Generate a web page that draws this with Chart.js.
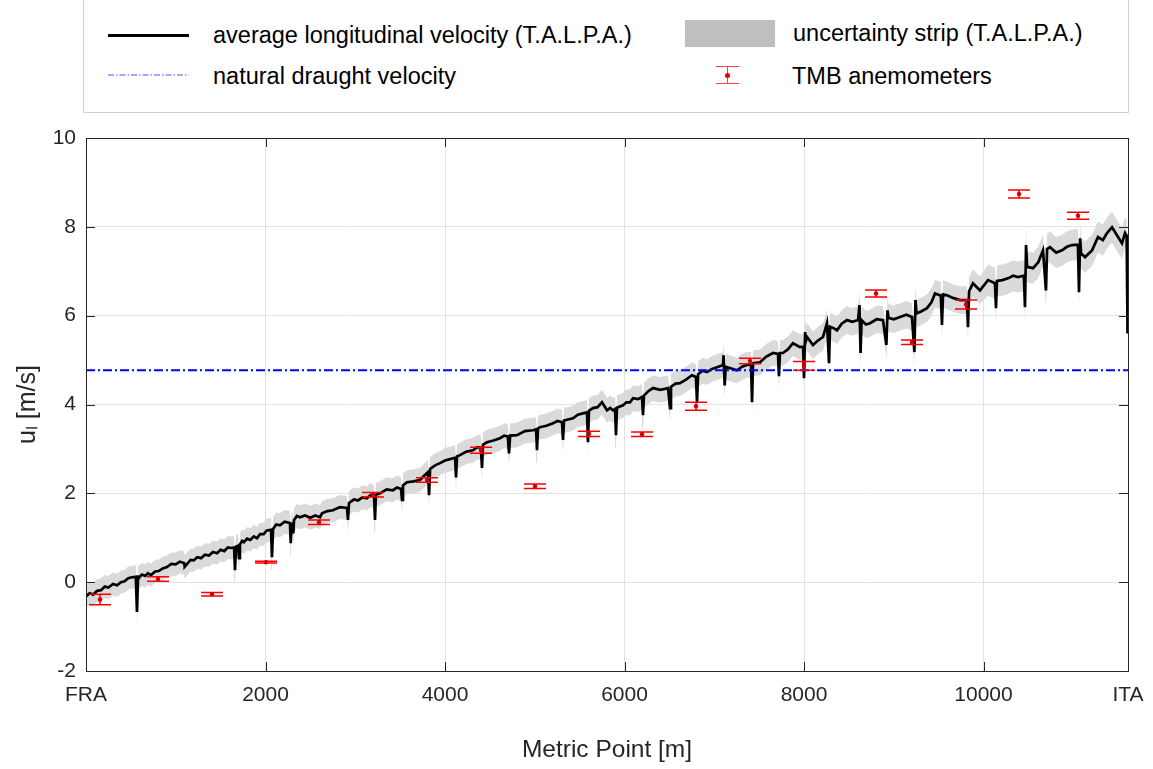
<!DOCTYPE html>
<html>
<head>
<meta charset="utf-8">
<script src="https://cdn.jsdelivr.net/npm/chart.js@4.4.1/dist/chart.umd.min.js"></script>
<style>
    html, body { margin: 0; padding: 0; background: #fff; }
    #wrap { position: relative; width: 1153px; height: 769px; font-family: "Liberation Sans", Arial, sans-serif; color: #000; }
    #chart { position: absolute; left: 0; top: 0; }
    #legend { position: absolute; left: 83px; top: 0; width: 1044px; height: 112px; border: 1px solid #d0d0d0; border-top: none; background: #fff; }
    .item { position: absolute; font-size: 23.5px; line-height: 28px; white-space: nowrap; }
    .sym { position: absolute; }
</style>
</head>
<body>
<div id="wrap">
    <canvas id="chart" width="1153" height="769"></canvas>
    <div id="legend">
        <div class="sym" style="left:24px;top:34px;width:81px;height:3px;background:#000"></div>
        <div class="item" style="left:129px;top:21px">average longitudinal velocity (T.A.L.P.A.)</div>
        <svg class="sym" style="left:24px;top:72px" width="81" height="6">
            <line x1="0" y1="3" x2="81" y2="3" stroke="#4d4dff" stroke-width="1" stroke-dasharray="6,2,1.5,2"></line>
        </svg>
        <div class="item" style="left:129px;top:62px">natural draught velocity</div>
        <div class="sym" style="left:601px;top:20px;width:90px;height:27px;background:#bfbfbf"></div>
        <div class="item" style="left:709px;top:19px">uncertainty strip (T.A.L.P.A.)</div>
        <div class="sym" style="left:632px;top:66px;width:23px;height:1px;background:#ff4040"></div>
        <div class="sym" style="left:643px;top:66px;width:1px;height:18px;background:#ff4040"></div>
        <div class="sym" style="left:632px;top:83px;width:23px;height:1px;background:#ff4040"></div>
        <div class="sym" style="left:641px;top:73px;width:5px;height:5px;background:#e00000;border-radius:3px"></div>
        <div class="item" style="left:708px;top:62px">TMB anemometers</div>
    </div>
</div>
<script>
// x limits: FRA portal = 0, ITA portal
const X_FRA = 0;
const X_ITA = 11610;
const xTicks = [0, 2000, 4000, 6000, 8000, 10000, 11610];
const yTicks = [-2, 0, 2, 4, 6, 8, 10];

// average longitudinal velocity (T.A.L.P.A.), [metric point, u]
const talpaLine = [
    [0, -0.32], [40, -0.25], [80, -0.28], [120, -0.20], [167, -0.18], [210, -0.10], [250, -0.12], [300, -0.04],
    [345, -0.07], [390, 0.00], [430, 0.02], [470, 0.09], [513, 0.11], [555, 0.12], [568, -0.67], [580, 0.12],
    [590, 0.11], [625, 0.17], [660, 0.14], [690, 0.20], [724, 0.16], [770, 0.24], [810, 0.25], [855, 0.31],
    [902, 0.34], [950, 0.41], [1000, 0.40], [1045, 0.46], [1092, 0.43], [1100, 0.35], [1130, 0.42], [1165, 0.50],
    [1200, 0.49], [1240, 0.56], [1281, 0.54], [1325, 0.62], [1370, 0.60], [1415, 0.68], [1460, 0.65], [1500, 0.73],
    [1540, 0.70], [1580, 0.78], [1616, 0.77], [1650, 0.78], [1660, 0.27], [1672, 0.80], [1695, 0.82], [1705, 0.54],
    [1715, 0.85], [1740, 0.93], [1760, 0.90], [1795, 0.98], [1830, 0.95], [1870, 1.03], [1905, 0.99], [1940, 1.08],
    [1980, 1.08], [2010, 1.16], [2039, 1.17], [2062, 1.18], [2072, 0.56], [2084, 1.20], [2120, 1.30], [2161, 1.28],
    [2215, 1.36], [2273, 1.33], [2278, 1.33], [2284, 0.88], [2290, 1.30], [2303, 1.32], [2310, 1.10], [2318, 1.40],
    [2350, 1.49], [2384, 1.46], [2440, 1.50], [2500, 1.45], [2555, 1.50], [2607, 1.46], [2630, 1.55], [2690, 1.60],
    [2752, 1.62], [2830, 1.69], [2908, 1.67], [2919, 1.40], [2930, 1.78], [2942, 1.80], [2985, 1.86], [3030, 1.84],
    [3080, 1.91], [3131, 1.89], [3170, 1.96], [3210, 1.92], [3220, 1.40], [3230, 1.97], [3276, 2.00], [3350, 2.09],
    [3420, 2.07], [3465, 2.13], [3510, 2.10], [3521, 1.85], [3532, 2.18], [3577, 2.25], [3650, 2.27], [3721, 2.30],
    [3765, 2.39], [3811, 2.48], [3822, 1.96], [3834, 2.55], [3890, 2.63], [3944, 2.68], [4000, 2.74], [4056, 2.77],
    [4089, 2.79], [4112, 2.80], [4123, 2.36], [4134, 2.83], [4167, 2.86], [4240, 2.94], [4312, 2.97], [4360, 3.04],
    [4400, 3.03], [4412, 2.57], [4424, 3.10], [4468, 3.15], [4540, 3.19], [4613, 3.24], [4660, 3.30], [4700, 3.28],
    [4713, 2.90], [4726, 3.30], [4802, 3.31], [4890, 3.40], [4981, 3.42], [5015, 3.44], [5025, 2.97], [5036, 3.46],
    [5058, 3.49], [5130, 3.52], [5203, 3.58], [5255, 3.63], [5304, 3.60], [5315, 3.20], [5326, 3.64], [5426, 3.69],
    [5480, 3.77], [5537, 3.80], [5582, 3.82], [5593, 3.15], [5604, 3.86], [5649, 3.92], [5700, 3.94], [5749, 4.05],
    [5805, 3.87], [5840, 3.92], [5872, 3.87], [5895, 3.90], [5905, 3.31], [5916, 3.93], [5983, 3.98], [6020, 4.05],
    [6061, 4.05], [6095, 4.14], [6150, 4.12], [6195, 4.17], [6206, 3.76], [6217, 4.20], [6265, 4.30], [6318, 4.37],
    [6400, 4.33], [6485, 4.37], [6507, 3.92], [6518, 4.40], [6570, 4.47], [6618, 4.48], [6685, 4.56], [6752, 4.66],
    [6796, 4.62], [6808, 4.05], [6820, 4.68], [6870, 4.76], [6919, 4.73], [6975, 4.80], [7031, 4.84], [7097, 4.89],
    [7104, 5.11], [7116, 4.43], [7128, 4.85], [7190, 4.81], [7253, 4.77], [7310, 4.85], [7365, 4.89], [7410, 4.90],
    [7421, 4.05], [7432, 4.93], [7510, 4.95], [7580, 5.08], [7655, 5.16], [7710, 5.14], [7721, 4.64], [7732, 5.16],
    [7766, 5.16], [7820, 5.24], [7877, 5.38], [7955, 5.29], [7990, 5.30], [8000, 4.59], [8012, 5.63], [8024, 5.45],
    [8034, 5.52], [8100, 5.34], [8155, 5.44], [8212, 5.52], [8256, 5.83], [8279, 4.93], [8290, 5.75], [8330, 5.72],
    [8368, 5.67], [8420, 5.82], [8479, 5.90], [8540, 5.86], [8602, 5.90], [8618, 6.24], [8630, 5.16], [8642, 5.90],
    [8690, 5.80], [8735, 5.83], [8810, 5.92], [8880, 5.90], [8918, 5.34], [8930, 6.12], [8942, 5.95], [9000, 5.92],
    [9070, 5.97], [9140, 6.02], [9203, 5.97], [9230, 5.18], [9242, 6.35], [9254, 6.05], [9310, 6.10], [9370, 6.17],
    [9420, 6.30], [9460, 6.50], [9525, 6.45], [9537, 5.79], [9549, 6.48], [9593, 6.46], [9660, 6.40], [9738, 6.35],
    [9815, 6.35], [9827, 5.74], [9839, 6.55], [9883, 6.73], [9961, 6.57], [10050, 6.80], [10128, 6.73], [10139, 6.17],
    [10150, 6.78], [10210, 6.80], [10273, 6.84], [10330, 6.90], [10384, 6.87], [10450, 6.90], [10462, 6.19], [10474, 7.59],
    [10486, 7.10], [10552, 7.07], [10610, 7.20], [10663, 7.47], [10696, 6.57], [10708, 7.50], [10741, 7.54], [10810, 7.42],
    [10875, 7.47], [10930, 7.55], [10986, 7.59], [11052, 7.60], [11064, 6.53], [11076, 7.74], [11088, 7.40], [11131, 7.32],
    [11209, 7.47], [11276, 7.77], [11330, 7.70], [11376, 7.86], [11432, 7.99], [11499, 7.77], [11543, 7.63], [11577, 7.86],
    [11595, 7.80], [11605, 5.60]
];

// half width of the uncertainty strip, per 2000 m stretch
const stripStart = [0, 2000, 4000, 6000, 8000, 10000];
const stripHalf = [0.26, 0.27, 0.28, 0.29, 0.31, 0.35];

// natural draught velocity
const draughtU = 4.77;

// TMB anemometers
const anemX = [160, 800, 1400, 2000, 2600, 3200, 3800, 4400, 5000, 5600, 6200, 6800, 7400, 8000, 8800, 9200, 9800, 10400, 11050];
const anemU = [-0.39, 0.07, -0.27, 0.45, 1.35, 1.97, 2.30, 2.97, 2.16, 3.34, 3.33, 3.96, 4.98, 4.87, 6.50, 5.40, 6.25, 8.74, 8.25];
const anemErr = [0.12, 0.05, 0.04, 0.02, 0.05, 0.05, 0.05, 0.07, 0.05, 0.06, 0.05, 0.09, 0.06, 0.10, 0.08, 0.05, 0.10, 0.09, 0.08];

function halfAt(x) {
    let h = stripHalf[0];
    stripStart.forEach((s, i) => { if (x >= s) h = stripHalf[i]; });
    return h;
}

const linePts = talpaLine.map(([x, y]) => ({ x, y }));
const upperPts = talpaLine.map(([x, y]) => ({ x, y: y + halfAt(x) }));
const lowerPts = talpaLine.map(([x, y]) => ({ x, y: y - halfAt(x) }));
const anemPts = anemX.map((x, i) => ({ x, y: anemU[i] }));

const AXIS_COLOR = "#262626";
const FONT = "'Liberation Sans', Arial, sans-serif";

const framePlugin = {
    id: "frame",
    afterDatasetsDraw(chart) {
        const { ctx, scales } = chart;
        // error bars for the anemometers
        ctx.save();
        ctx.strokeStyle = "#ff0000";
        ctx.lineWidth = 1.5;
        anemX.forEach((x, i) => {
            const px = Math.round(scales.x.getPixelForValue(x));
            const top = scales.y.getPixelForValue(anemU[i] + anemErr[i]);
            const bot = scales.y.getPixelForValue(anemU[i] - anemErr[i]);
            ctx.beginPath();
            ctx.moveTo(px - 11, top); ctx.lineTo(px + 11, top);
            ctx.moveTo(px - 11, bot); ctx.lineTo(px + 11, bot);
            ctx.moveTo(px, top); ctx.lineTo(px, bot);
            ctx.stroke();
        });
        ctx.fillStyle = "#d00000";
        anemX.forEach((x, i) => {
            ctx.beginPath();
            ctx.arc(Math.round(scales.x.getPixelForValue(x)), scales.y.getPixelForValue(anemU[i]), 2.2, 0, Math.PI * 2);
            ctx.fill();
        });
        ctx.restore();
    },
    afterDraw(chart) {
        const { ctx, chartArea: a, scales } = chart;
        ctx.save();
        ctx.strokeStyle = AXIS_COLOR;
        ctx.lineWidth = 1;
        ctx.strokeRect(Math.round(a.left) + 0.5, Math.round(a.top) + 0.5, Math.round(a.right - a.left), Math.round(a.bottom - a.top));
        ctx.beginPath();
        yTicks.forEach(v => {
            const py = Math.round(scales.y.getPixelForValue(v)) + 0.5;
            ctx.moveTo(a.left, py); ctx.lineTo(a.left + 9, py);
            ctx.moveTo(a.right, py); ctx.lineTo(a.right - 9, py);
        });
        xTicks.forEach(v => {
            const px = Math.round(scales.x.getPixelForValue(v)) + 0.5;
            ctx.moveTo(px, a.bottom); ctx.lineTo(px, a.bottom - 9);
            ctx.moveTo(px, a.top); ctx.lineTo(px, a.top + 9);
        });
        ctx.stroke();
        ctx.restore();
    }
};

new Chart(document.getElementById("chart"), {
    type: "line",
    data: {
        datasets: [
            {
                label: "uncertainty strip upper",
                data: upperPts,
                borderWidth: 0,
                pointRadius: 0,
                backgroundColor: "#dadada",
                fill: "+1",
                order: 5
            },
            {
                label: "uncertainty strip lower",
                data: lowerPts,
                borderWidth: 0,
                pointRadius: 0,
                fill: false,
                order: 5
            },
            {
                label: "average longitudinal velocity (T.A.L.P.A.)",
                data: linePts,
                borderColor: "#000",
                borderWidth: 2.7,
                pointRadius: 0,
                tension: 0,
                fill: false,
                order: 4
            },
            {
                label: "natural draught velocity",
                data: [{ x: X_FRA, y: draughtU }, { x: X_ITA, y: draughtU }],
                borderColor: "#0000ff",
                borderWidth: 2,
                borderDash: [9, 3, 2, 3],
                pointRadius: 0,
                fill: false,
                order: 3
            }
        ]
    },
    options: {
        responsive: false,
        animation: false,
        layout: { padding: { top: 138, right: 25, left: 0, bottom: 0 } },
        plugins: { legend: { display: false }, tooltip: { enabled: false } },
        scales: {
            x: {
                type: "linear",
                min: X_FRA,
                max: X_ITA,
                afterBuildTicks: s => { s.ticks = xTicks.map(v => ({ value: v })); },
                afterFit: s => { s.height = 98; s.paddingLeft = 0; s.paddingRight = 0; },
                grid: { color: "#e3e3e3", drawTicks: false },
                border: { display: false },
                ticks: {
                    color: AXIS_COLOR,
                    font: { family: FONT, size: 21 },
                    padding: 12,
                    maxRotation: 0,
                    callback: v => v === X_FRA ? "FRA" : (v === X_ITA ? "ITA" : String(v))
                },
                title: {
                    display: true,
                    text: "Metric Point [m]",
                    color: AXIS_COLOR,
                    font: { family: FONT, size: 24.5 },
                    padding: { top: 22 }
                }
            },
            y: {
                min: -2,
                max: 10,
                afterBuildTicks: s => { s.ticks = yTicks.map(v => ({ value: v })); },
                afterFit: s => { s.width = 86; },
                grid: { color: "#e3e3e3", drawTicks: false },
                border: { display: false },
                ticks: {
                    color: AXIS_COLOR,
                    font: { family: FONT, size: 21 },
                    padding: 10
                },
                title: {
                    display: true,
                    text: "uₗ [m/s]",
                    color: AXIS_COLOR,
                    font: { family: FONT, size: 25 },
                    padding: { top: 13, bottom: 0 }
                }
            }
        }
    },
    plugins: [framePlugin]
});
</script>
</body>
</html>
